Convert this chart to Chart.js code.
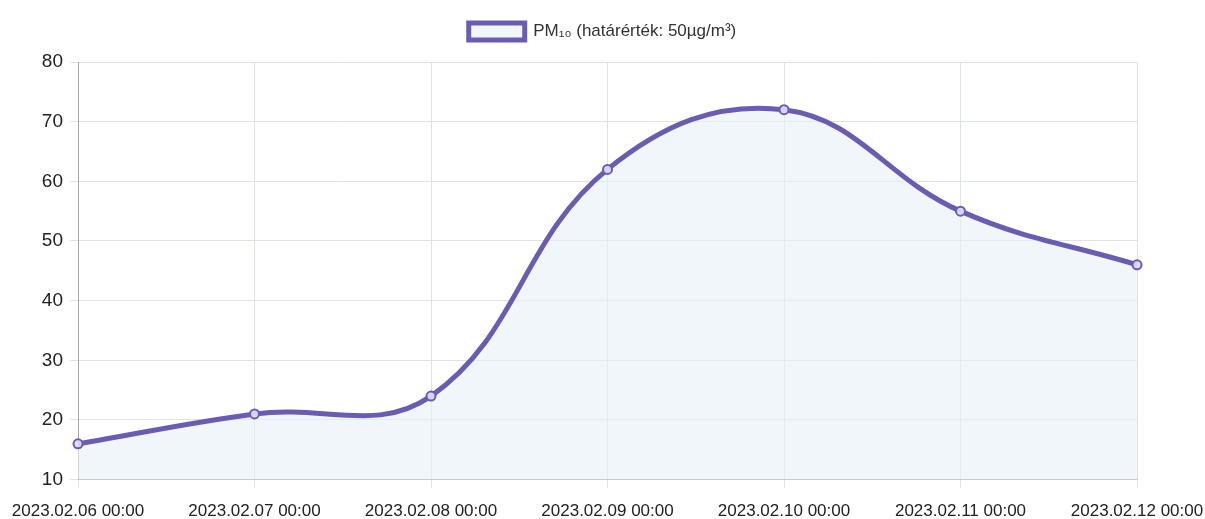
<!DOCTYPE html>
<html>
<head>
<meta charset="utf-8">
<script src="https://cdn.jsdelivr.net/npm/chart.js@4"></script>
<style>
  html, body { margin: 0; padding: 0; background: #fff; }
  #wrap { width: 1205px; height: 519px; }
</style>
</head>
<body>
<div id="wrap"><canvas id="chart"></canvas></div>
<script>
// Data
const labels = ['2023.02.06 00:00', '2023.02.07 00:00', '2023.02.08 00:00', '2023.02.09 00:00',
  '2023.02.10 00:00', '2023.02.11 00:00', '2023.02.12 00:00'];
const pm10 = [16, 21, 24, 62, 72, 55, 46];
const seriesName = 'PM₁₀ (határérték: 50µg/m³)';
const yTicks = { min: 10, max: 80, step: 10 };

Chart.defaults.font.family = '"Liberation Sans", Arial, sans-serif';
Chart.defaults.color = '#333';

// push the plot down a bit under the legend
const legendGap = {
  id: 'legendGap',
  beforeInit(chart) {
    const fit = chart.legend.fit;
    chart.legend.fit = function () {
      fit.bind(chart.legend)();
      this.height += 12;
    };
  }
};

const ctx = document.getElementById('chart');

new Chart(ctx, {
  type: 'line',
  data: {
    labels: labels,
    datasets: [{
      label: seriesName,
      data: pm10,
      borderColor: '#6a5cb3',
      backgroundColor: 'rgba(232, 240, 246, 0.6)',
      borderWidth: 5,
      fill: true,
      tension: 0.4,
      pointRadius: 4.5,
      pointBorderWidth: 2,
      pointBackgroundColor: 'rgba(225, 222, 245, 0.9)',
      pointBorderColor: '#6a5cb3'
    }]
  },
  options: {
    responsive: true,
    maintainAspectRatio: false,
    animation: false,
    layout: { padding: { left: 0, right: 0, top: 13, bottom: -17 } },
    plugins: {
      legend: {
        labels: {
          boxWidth: 56,
          boxHeight: 17,
          font: { size: 17 },
          color: '#333'
        }
      },
      tooltip: { enabled: false }
    },
    scales: {
      x: {
        grid: { color: '#dde3e6' },
        border: { color: '#c8c8c8' },
        ticks: { font: { size: 17 }, maxRotation: 0, autoSkip: false, color: '#222', padding: 14 },
        afterFit(scale) {
          // labels at both ends may run to the canvas edge
          scale.paddingLeft = 78;
          scale.paddingRight = 68;
        }
      },
      y: {
        min: yTicks.min,
        max: yTicks.max,
        grid: { color: '#dde3e6' },
        border: { color: '#aaa' },
        ticks: { stepSize: yTicks.step, font: { size: 19 }, color: '#222', padding: 7 }
      }
    }
  },
  plugins: [legendGap]
});
</script>
</body>
</html>
